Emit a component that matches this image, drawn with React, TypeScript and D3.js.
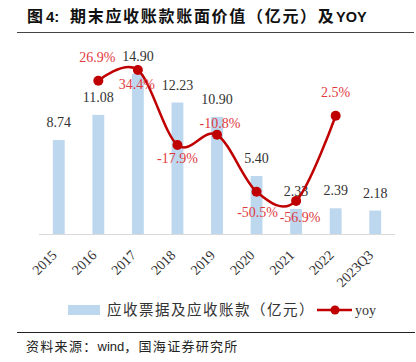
import React from "react";
import * as d3 from "d3";

const categories = ["2015", "2016", "2017", "2018", "2019", "2020", "2021", "2022", "2023Q3"];
const receivables = [8.74, 11.08, 14.9, 12.23, 10.9, 5.4, 2.33, 2.39, 2.18];
const yoyCats = ["2016", "2017", "2018", "2019", "2020", "2021", "2022"];
const yoyValues = [26.9, 34.4, -17.9, -10.8, -50.5, -56.9, 2.5];
// label placement: baseline offset from marker (negative = above), and x nudge
const yoyLabelDy = [-19, 19, 18, -7, 25, 21, -19];
const yoyLabelDx = [-1, -1, 0, 3, 1, 4, 0];

const W = 416;
const H = 362;
const serif = "'Liberation Serif', 'Times New Roman', serif";
const cjk = "'Noto Sans CJK SC', sans-serif";
const sans = "'Liberation Sans', Arial, sans-serif";

export default function App() {
  const x = d3
    .scaleBand<string>()
    .domain(categories)
    .range([39, 395])
    .paddingInner(0.7)
    .paddingOuter(0.35);
  const yL = d3.scaleLinear().domain([0, 16]).range([234, 62]);
  const yR = d3.scaleLinear().domain([-80, 40]).range([234, 62]);
  const cx = (c: string) => (x(c) as number) + x.bandwidth() / 2;

  const pts: [number, number][] = yoyCats.map((c, i) => [cx(c), yR(yoyValues[i])]);
  const line = d3.line().curve(d3.curveCardinal.tension(0))(pts) || "";

  return (
    <svg
      width={W}
      height={H}
      style={{ position: "absolute", left: 0, top: 0, background: "#fff" }}
    >
      {/* Title */}
      <g fontWeight="bold" fill="#111" fontSize={16}>
        <text x={27} y={22} fontFamily={cjk}>图</text>
        <text x={46} y={22} fontFamily={sans} fontSize={15}>4:</text>
        <text x={70} y={22} fontFamily={cjk} letterSpacing={1.7}>期末应收账款账面价值（亿元）及</text>
        <text x={336} y={22} fontFamily={sans} fontSize={14.5}>YOY</text>
      </g>
      <line x1={17} x2={414} y1={32.5} y2={32.5} stroke="#444" strokeWidth={1} />

      {/* Bars */}
      {categories.map((c, i) => (
        <rect
          key={c}
          x={x(c)}
          y={yL(receivables[i])}
          width={x.bandwidth()}
          height={yL(0) - yL(receivables[i])}
          fill="#BDD7EE"
        />
      ))}
      <line x1={39} x2={395} y1={234.5} y2={234.5} stroke="#D9D9D9" strokeWidth={1} />

      {/* Bar labels */}
      {categories.map((c, i) => (
        <text
          key={c}
          x={cx(c)}
          y={yL(receivables[i]) - 13}
          textAnchor="middle"
          fontSize={14}
          fill="#333"
          fontFamily={serif}
        >
          {receivables[i].toFixed(2)}
        </text>
      ))}

      {/* YoY line */}
      <path d={line} fill="none" stroke="#C00000" strokeWidth={2.5} />
      {pts.map((p, i) => (
        <circle key={i} cx={p[0]} cy={p[1]} r={5} fill="#C00000" />
      ))}
      {pts.map((p, i) => (
        <text
          key={i}
          x={p[0] + yoyLabelDx[i]}
          y={p[1] + yoyLabelDy[i]}
          textAnchor="middle"
          fontSize={14}
          fill="#E0393E"
          fontFamily={serif}
        >
          {yoyValues[i].toFixed(1) + "%"}
        </text>
      ))}

      {/* X labels */}
      {categories.map((c) => (
        <text
          key={c}
          transform={`translate(${cx(c) - 1},${256}) rotate(-45)`}
          textAnchor="end"
          fontSize={14}
          fill="#333"
          fontFamily={serif}
        >
          {c}
        </text>
      ))}

      {/* Legend */}
      <rect x={68} y={305} width={32} height={10} fill="#BDD7EE" />
      <text x={107} y={315} fontSize={14.5} fill="#333" fontFamily={cjk} letterSpacing={1.5}>
        应收票据及应收账款（亿元）
      </text>
      <line x1={317} x2={352} y1={310} y2={310} stroke="#C00000" strokeWidth={2.5} />
      <circle cx={335} cy={310} r={4.5} fill="#C00000" />
      <text x={355} y={315} fontSize={14} fill="#333" fontFamily={serif}>
        yoy
      </text>

      {/* Footer */}
      <line x1={17} x2={415} y1={332.5} y2={332.5} stroke="#222" strokeWidth={1} />
      <text x={26} y={351} fontSize={13} fill="#222" fontFamily={sans}>
        <tspan fontFamily={cjk} letterSpacing={1.3}>资料来源：</tspan>
        <tspan>wind</tspan>
        <tspan fontFamily={cjk} letterSpacing={1.3}>，国海证券研究所</tspan>
      </text>
    </svg>
  );
}
